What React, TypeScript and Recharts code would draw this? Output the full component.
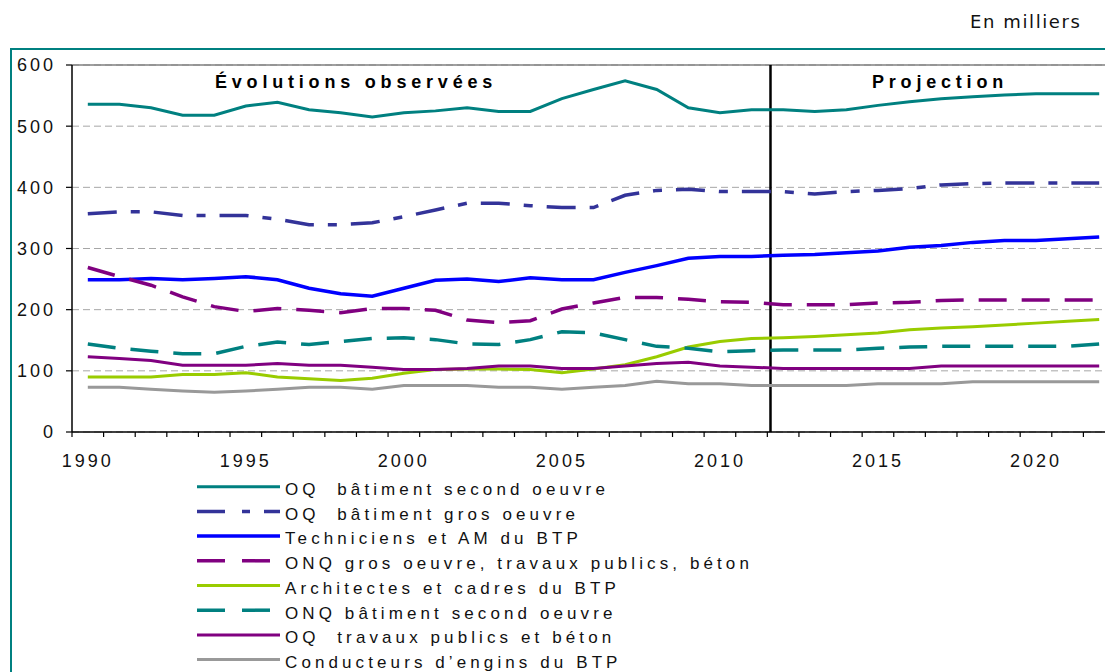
import { LineChart, Line, XAxis, YAxis, CartesianGrid, ReferenceLine, Legend } from 'recharts';

// années observées puis projetées
const YEARS = [
  1990, 1991, 1992, 1993, 1994, 1995, 1996, 1997, 1998, 1999,
  2000, 2001, 2002, 2003, 2004, 2005, 2006, 2007, 2008, 2009, 2010, 2011,
  2012, 2013, 2014, 2015, 2016, 2017, 2018, 2019, 2020, 2021, 2022,
];

const OQ_SECOND = [
  536, 536, 530, 518, 518, 533, 539, 527, 522, 515,
  522, 525, 530, 524, 524, 545, 560, 574, 560, 530, 522, 527,
  527, 524, 527, 534, 540, 545, 548, 551, 553, 553, 553,
];
const OQ_GROS = [
  357, 360, 360, 354, 354, 354, 348, 339, 339, 342,
  352, 363, 374, 374, 370, 367, 367, 387, 395, 397, 393, 393,
  393, 389, 393, 395, 398, 404, 406, 407, 407, 407, 407,
];
const TECHNICIENS = [
  249, 249, 251, 249, 251, 254, 249, 235, 226, 222,
  235, 248, 250, 246, 252, 249, 249, 261, 272, 284, 287, 287,
  289, 290, 293, 296, 302, 305, 310, 313, 313, 316, 319,
];
const ONQ_GROS = [
  269, 254, 240, 221, 205, 197, 202, 199, 195, 202,
  202, 199, 183, 179, 182, 201, 211, 220, 220, 217, 213, 212,
  208, 208, 208, 211, 212, 215, 216, 216, 216, 216, 216,
];
const ARCHITECTES = [
  90, 90, 90, 94, 94, 97, 90, 87, 84, 88,
  96, 102, 103, 103, 102, 97, 103, 110, 123, 139, 148, 153,
  154, 156, 159, 162, 167, 170, 172, 175, 178, 181, 184,
];
const ONQ_SECOND = [
  144, 137, 132, 128, 128, 140, 147, 143, 148, 153,
  154, 151, 144, 143, 151, 164, 162, 151, 140, 137, 131, 133,
  134, 134, 134, 137, 139, 140, 140, 140, 140, 140, 144,
];
const OQ_TP = [
  123, 120, 117, 109, 109, 109, 112, 109, 109, 106,
  102, 102, 104, 108, 108, 104, 104, 108, 112, 114, 108, 106,
  104, 104, 104, 104, 104, 108, 108, 108, 108, 108, 108,
];
const CONDUCTEURS = [
  73, 73, 70, 67, 65, 67, 70, 73, 73, 70,
  76, 76, 76, 73, 73, 70, 73, 76, 83, 79, 79, 76,
  76, 76, 76, 79, 79, 79, 82, 82, 82, 82, 82,
];

const Y_TICKS = [0, 100, 200, 300, 400, 500, 600];
const LABEL_YEARS = [1990, 1995, 2000, 2005, 2010, 2015, 2020];
const PROJECTION_START = 2011.6;

const SERIES = [
  { key: 'oqSecond', name: 'OQ  bâtiment second oeuvre', values: OQ_SECOND, color: '#008080', width: 3, dash: undefined, legendDash: undefined },
  { key: 'oqGros', name: 'OQ  bâtiment gros oeuvre', values: OQ_GROS, color: '#333399', width: 3.5, dash: '29 14 9 14', legendDash: '28 17 8 14' },
  { key: 'tech', name: 'Techniciens et AM du BTP', values: TECHNICIENS, color: '#0000ff', width: 3.5, dash: undefined, legendDash: undefined },
  { key: 'onqGros', name: 'ONQ gros oeuvre, travaux publics, béton', values: ONQ_GROS, color: '#800080', width: 3.5, dash: '28 15', legendDash: '28 17' },
  { key: 'archi', name: 'Architectes et cadres du BTP', values: ARCHITECTES, color: '#99cc00', width: 3, dash: undefined, legendDash: undefined },
  { key: 'onqSecond', name: 'ONQ bâtiment second oeuvre', values: ONQ_SECOND, color: '#008080', width: 3.5, dash: '28 15', legendDash: '28 17' },
  { key: 'oqTp', name: 'OQ  travaux publics et béton', values: OQ_TP, color: '#800080', width: 3, dash: undefined, legendDash: undefined },
  { key: 'cond', name: 'Conducteurs d’engins du BTP', values: CONDUCTEURS, color: '#999999', width: 3, dash: undefined, legendDash: undefined },
];

const data = YEARS.map((year, i) => {
  const row: Record<string, number> = { year };
  SERIES.forEach((s) => { row[s.key] = s.values[i]; });
  return row;
});

// bornes entre les années : les graduations tombent entre deux catégories
const BOUNDS = [...YEARS.map((y) => y - 0.5), YEARS[YEARS.length - 1] + 0.5];

const CHART_W = 1120;
const CHART_H = 672;
const MARGIN = { top: 65, right: 5, left: 12, bottom: 210 };
const Y_AXIS_W = 60;
const PLOT_W = CHART_W - MARGIN.left - MARGIN.right - Y_AXIS_W;
const BAND = PLOT_W / YEARS.length;

const AXIS_FONT = '"Liberation Sans", Arial, sans-serif';

function YearTick(props: any) {
  const { x, y, payload } = props;
  const year = payload.value + 0.5;
  if (!LABEL_YEARS.includes(year)) return null;
  return (
    <text x={x + BAND / 2} y={y} dy={26} textAnchor="middle" fontSize={18} fill="#111"
      style={{ fontFamily: AXIS_FONT, letterSpacing: 3 }}>
      {year}
    </text>
  );
}

function LegendBox() {
  const rowH = 24.7;
  return (
    <svg width={600} height={rowH * SERIES.length + 4}>
      {SERIES.map((s, i) => {
        const cy = 12.7 + i * rowH;
        return (
          <g key={s.key}>
            <line x1={0} x2={83} y1={cy} y2={cy} stroke={s.color} strokeWidth={s.width}
              strokeDasharray={s.legendDash} />
            <text x={88} y={cy + 8.3} fontSize={17} fill="#111"
              style={{ fontFamily: AXIS_FONT, letterSpacing: 4.1, whiteSpace: 'pre' }}>
              {s.name}
            </text>
          </g>
        );
      })}
    </svg>
  );
}

const titleStyle: React.CSSProperties = {
  position: 'absolute',
  top: 73,
  fontFamily: AXIS_FONT,
  fontWeight: 'bold',
  fontSize: 18,
  lineHeight: '18px',
  letterSpacing: 4.8,
  color: '#000',
  whiteSpace: 'nowrap',
};

export default function App() {
  return (
    <div style={{ position: 'absolute', left: 0, top: 0, width: 1105, height: 672, overflow: 'hidden', background: '#fff' }}>
      <div style={{ position: 'absolute', left: 10, top: 48, width: 1200, height: 700, border: '2px solid #008080' }} />
      <div style={{ position: 'absolute', left: 970, top: 13, fontFamily: '"DejaVu Sans", Verdana, sans-serif', fontSize: 18, lineHeight: '18px', letterSpacing: 1.6, color: '#111' }}>
        En milliers
      </div>
      <div style={{ position: 'absolute', left: 0, top: 0 }}>
        <LineChart width={CHART_W} height={CHART_H} data={data} margin={MARGIN}>
          <CartesianGrid vertical={false} stroke="#a6a6a6" strokeDasharray="7 4" strokeWidth={1} />
          <XAxis
            dataKey="year"
            type="number"
            domain={[BOUNDS[0], BOUNDS[BOUNDS.length - 1]]}
            ticks={BOUNDS}
            interval={0}
            height={30}
            tick={<YearTick />}
            tickSize={5}
            tickMargin={4}
            axisLine={{ stroke: '#000', strokeWidth: 1.5 }}
            tickLine={{ stroke: '#000', strokeWidth: 1.2 }}
          />
          <YAxis
            domain={[0, 600]}
            ticks={Y_TICKS}
            interval={0}
            width={Y_AXIS_W}
            tickSize={6}
            tickMargin={10}
            axisLine={{ stroke: '#000', strokeWidth: 1.5 }}
            tickLine={{ stroke: '#000', strokeWidth: 1.2 }}
            tick={{ fontSize: 18, fill: '#111', fontFamily: AXIS_FONT, style: { letterSpacing: 3 } }}
          />
          <ReferenceLine y={600} stroke="#808080" strokeWidth={1.5} />
          <ReferenceLine x={PROJECTION_START} stroke="#000" strokeWidth={2.5} />
          {SERIES.map((s) => (
            <Line
              key={s.key}
              dataKey={s.key}
              name={s.name}
              type="linear"
              stroke={s.color}
              strokeWidth={s.width}
              strokeDasharray={s.dash}
              dot={false}
              activeDot={false}
              isAnimationActive={false}
            />
          ))}
          <Legend
            layout="vertical"
            align="center"
            verticalAlign="middle"
            content={() => <LegendBox />}
            wrapperStyle={{ left: 197, top: 474, width: 600 }}
          />
        </LineChart>
      </div>
      <div style={{ ...titleStyle, left: 215 }}>Évolutions observées</div>
      <div style={{ ...titleStyle, left: 872 }}>Projection</div>
    </div>
  );
}
